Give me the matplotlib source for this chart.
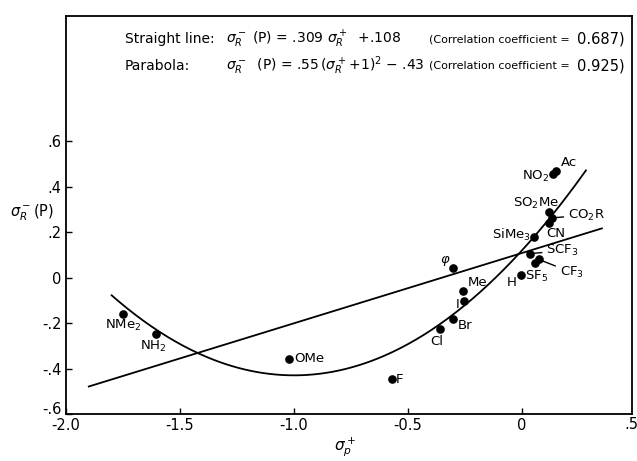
import numpy as np
import matplotlib
matplotlib.use("Agg")
import matplotlib.pyplot as plt
from matplotlib.transforms import offset_copy, ScaledTranslation

# ---- data ----
substituents = ["Ac", "NO$_2$", "SO$_2$Me", "CO$_2$R", "CN", "SiMe$_3$", "SCF$_3$",
                "SF$_5$", "CF$_3$", "H", r"$\varphi$", "Me", "I", "Br", "Cl",
                "NMe$_2$", "NH$_2$", "OMe", "F"]
sigma_p_plus = [0.149, 0.136, 0.117, 0.130, 0.120, 0.054, 0.035,
                0.058, 0.072, -0.006, -0.305, -0.257, -0.253, -0.304, -0.360,
                -1.750, -1.607, -1.020, -0.572]
sigma_R_minus = [0.470, 0.457, 0.287, 0.262, 0.240, 0.177, 0.105,
                 0.065, 0.080, 0.009, 0.043, -0.057, -0.104, -0.182, -0.226,
                 -0.160, -0.250, -0.357, -0.448]

# fitted relations stated on the chart
line_slope, line_intercept = 0.309, 0.108
line_range = (-1.90, 0.35)
para_a, para_shift, para_c = 0.55, 1.0, -0.43
para_range = (-1.80, 0.28)

x_ticks = [-2.0, -1.5, -1.0, -0.5, 0.0]
x_tick_labels = ["-2.0", "-1.5", "-1.0", "-0.5", "0"]
x_last_label = ".5"
y_ticks = [-0.6, -0.4, -0.2, 0.0, 0.2, 0.4, 0.6]
y_tick_labels = ["-.6", "-.4", "-.2", "0", ".2", ".4", ".6"]

# label placement (offset in pixels, alignment, leader line)
label_style = {
    "Ac": ((5, 8), "left", False),
    "NO$_2$": ((-4, -3), "right", False),
    "SO$_2$Me": ((10, 9), "right", False),
    "CO$_2$R": ((16, 3), "left", True),
    "CN": ((6, -11), "center", False),
    "SiMe$_3$": ((-3, 2), "right", False),
    "SCF$_3$": ((16, 3), "left", True),
    "SF$_5$": ((1, -14), "center", False),
    "CF$_3$": ((21, -13), "left", True),
    "H": ((-9, -7), "center", False),
    r"$\varphi$": ((-7, 7), "center", False),
    "Me": ((4, 8), "left", False),
    "I": ((-5, -3), "right", False),
    "Br": ((5, -7), "left", False),
    "Cl": ((-3, -13), "center", False),
    "NMe$_2$": ((0, -12), "center", False),
    "NH$_2$": ((-2, -12), "center", False),
    "OMe": ((5, 0), "left", False),
    "F": ((4, 0), "left", False),
}

plt.rcParams['font.family'] = ['DejaVu Sans']
plt.rcParams['mathtext.fontset'] = 'dejavusans'

W, H = 637, 461
fig = plt.figure(figsize=(W / 100, H / 100), dpi=100)
L, R, T, B = 66, 632, 16, 414
ax = fig.add_axes([L / W, 1 - B / H, (R - L) / W, (B - T) / H])

ax.set_xlim(-2.0, 0.482)
ax.set_ylim(-0.6, 1.15)

# fitted curves
xl = np.linspace(*line_range, 50)
ax.plot(xl, line_slope * xl + line_intercept, color="black", lw=1.3)
xp = np.linspace(*para_range, 300)
ax.plot(xp, para_a * (xp + para_shift) ** 2 + para_c, color="black", lw=1.3)

# points
ax.plot(sigma_p_plus, sigma_R_minus, "o", color="black", ms=5.2, mec="black")

for name, xv, yv in zip(substituents, sigma_p_plus, sigma_R_minus):
    (dx, dy), ha, leader = label_style[name]
    kw = {}
    if leader:
        kw["arrowprops"] = dict(arrowstyle="-", color="black", lw=1.0,
                                shrinkA=1, shrinkB=2)
    ax.annotate(name, xy=(xv, yv), xytext=(dx, dy), textcoords="offset pixels",
                ha=ha, va="center", fontsize=9.5, color="black", **kw)

# axes styling
for s in ax.spines.values():
    s.set_linewidth(1.3)
    s.set_color("black")
ax.set_xticks(x_ticks)
ax.set_xticklabels(x_tick_labels)
ax.set_yticks(y_ticks)
ax.set_yticklabels(y_tick_labels)
ax.tick_params(direction="in", length=4, width=1, labelsize=10.5, pad=3,
               colors="black")
# lowest y label sits raised above the corner, as in the reference
ylab0 = ax.get_yticklabels()[0]
ylab0.set_transform(ylab0.get_transform() +
                    ScaledTranslation(0, 6 / 100, fig.dpi_scale_trans))

# the ".5" label at the right edge of the x axis
ax.text(0.478, -0.6, x_last_label,
        transform=offset_copy(ax.transData, fig=fig, x=0, y=-3, units="dots"),
        ha="center", va="top", fontsize=10.5, clip_on=False)

# axis labels
ax.text(-0.099, 0.505, r"$\sigma_R^-$(P)", transform=ax.transAxes,
        ha="left", va="center", fontsize=10.5)
fig.text(345 / W, 1 - 447 / H, r"$\sigma_p^+$", ha="center", va="center",
         fontsize=11)

# equations
def ax_frac(px, py):
    return ((px - L) / (R - L), (B - py) / (B - T))

y1, y2 = 39, 66
ax.text(*ax_frac(125, y1), "Straight line:", transform=ax.transAxes,
        ha="left", va="center", fontsize=10)
ax.text(*ax_frac(125, y2), "Parabola:", transform=ax.transAxes,
        ha="left", va="center", fontsize=10)
ax.text(*ax_frac(226, y1),
        r"$\sigma_R^-$ (P) = .309 $\sigma_R^+$  +.108",
        transform=ax.transAxes, ha="left", va="center", fontsize=10)
ax.text(*ax_frac(226, y2),
        r"$\sigma_R^-$  (P) = .55$\,(\sigma_R^+\!+\!1)^2$" + " \u2212 .43",
        transform=ax.transAxes, ha="left", va="center", fontsize=10)
for yy, val in ((y1, "0.687)"), (y2, "0.925)")):
    ax.text(*ax_frac(625, yy), val, transform=ax.transAxes,
            ha="right", va="center", fontsize=10.5)
    ax.text(*ax_frac(570, yy), "(Correlation coefficient =",
            transform=ax.transAxes, ha="right", va="center", fontsize=8)

fig.savefig("out.png", dpi=100, facecolor="white")
